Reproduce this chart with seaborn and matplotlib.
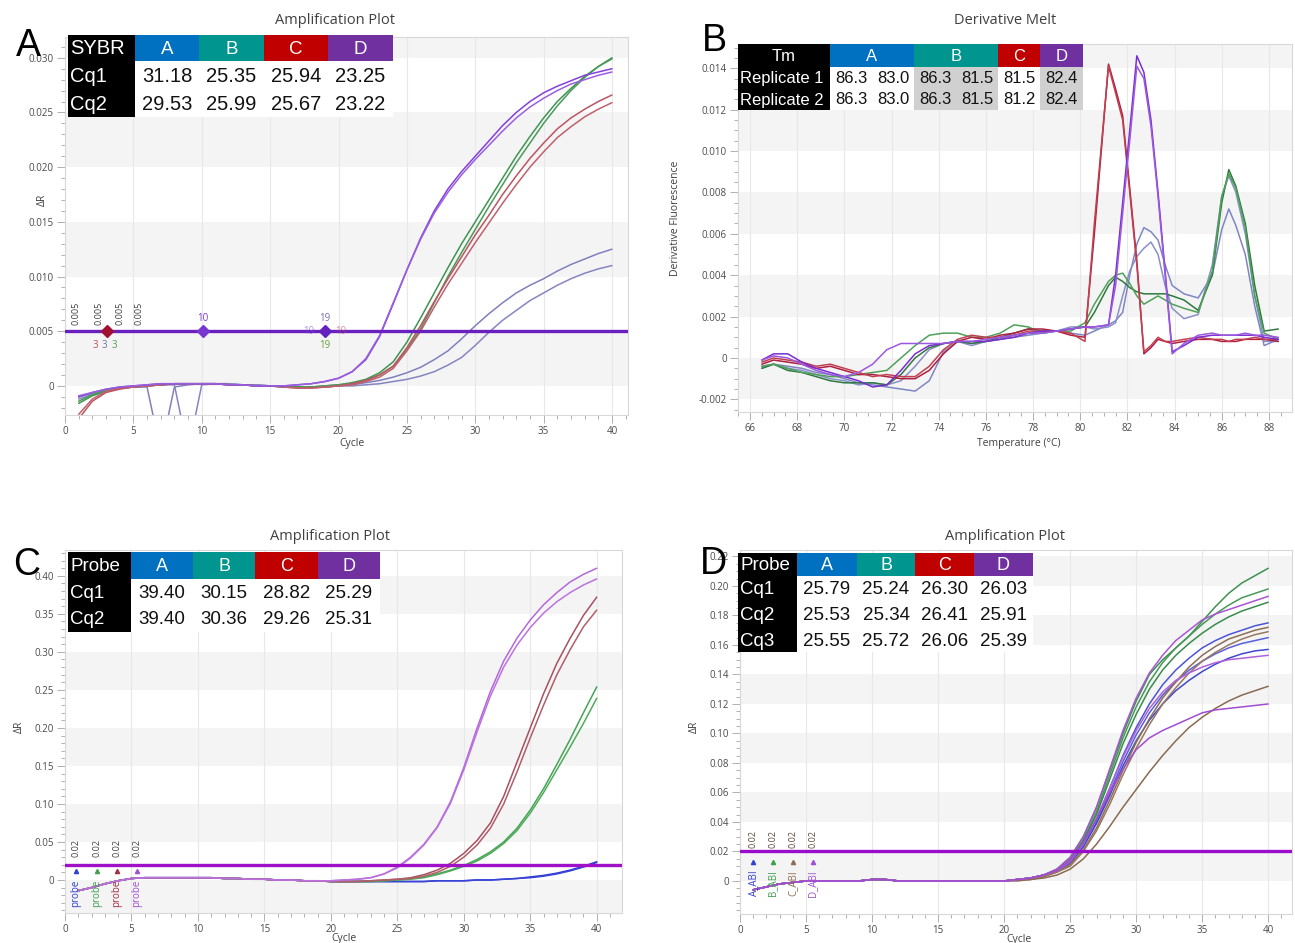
import numpy as np
import pandas as pd
import matplotlib
matplotlib.use("Agg")
import matplotlib.pyplot as plt
import seaborn as sns
from matplotlib.patches import Rectangle
from matplotlib.ticker import MultipleLocator, FuncFormatter

W, H = 1295, 943

# ---------------- data ----------------
cycles = list(range(1, 41))

# Panel A: SYBR amplification (dR per cycle)
sybr_A1 = [-0.0010, -0.0007, -0.0004, -0.0002, -0.0001, -0.0001, -0.0060, -0.0001, 0.0001, 0.0002, 0.0002, 0.0002, 0.0001, 0.0001, 0.0000, 0.0000, -0.0001, -0.0001, -0.0001,
           0.0000, 0.0001, 0.0003, 0.0005, 0.0008, 0.0012, 0.0017, 0.0024, 0.0032, 0.0043, 0.0055, 0.0066, 0.0076, 0.0085, 0.0092, 0.0098, 0.0105, 0.0111, 0.0116, 0.0121, 0.0125]
sybr_A2 = [-0.0012, -0.0008, -0.0004, -0.0002, -0.0001, 0.0000, 0.0001, 0.0001, -0.0060, 0.0001, 0.0002, 0.0002, 0.0001, 0.0001, 0.0000, 0.0000, -0.0001, -0.0001, -0.0001,
           0.0000, 0.0000, 0.0001, 0.0002, 0.0004, 0.0006, 0.0009, 0.0013, 0.0019, 0.0026, 0.0037, 0.0049, 0.0060, 0.0069, 0.0078, 0.0085, 0.0092, 0.0098, 0.0103, 0.0107, 0.0110]
sybr_B1 = [-0.0016, -0.0009, -0.0005, -0.0002, -0.0001, 0.0000, 0.0001, 0.0002, 0.0002, 0.0002, 0.0002, 0.0001, 0.0001, 0.0000, 0.0000, -0.0001, -0.0001, -0.0001, 0.0000,
           0.0001, 0.0003, 0.0006, 0.0012, 0.0022, 0.0040, 0.0062, 0.0085, 0.0108, 0.0130, 0.0150, 0.0170, 0.0190, 0.0210, 0.0228, 0.0245, 0.0260, 0.0272, 0.0283, 0.0292, 0.0300]
sybr_B2 = [-0.0014, -0.0008, -0.0004, -0.0002, -0.0001, 0.0000, 0.0001, 0.0002, 0.0002, 0.0002, 0.0002, 0.0001, 0.0001, 0.0000, 0.0000, -0.0001, -0.0001, -0.0001, 0.0000,
           0.0001, 0.0002, 0.0005, 0.0010, 0.0018, 0.0033, 0.0052, 0.0076, 0.0100, 0.0122, 0.0143, 0.0164, 0.0184, 0.0204, 0.0222, 0.0240, 0.0256, 0.0270, 0.0282, 0.0292, 0.0299]
sybr_C1 = [-0.0030, -0.0014, -0.0006, -0.0003, -0.0001, 0.0000, 0.0001, 0.0002, 0.0002, 0.0002, 0.0002, 0.0001, 0.0001, 0.0000, 0.0000, -0.0001, -0.0002, -0.0002, -0.0001,
           0.0000, 0.0002, 0.0005, 0.0010, 0.0018, 0.0035, 0.0055, 0.0077, 0.0098, 0.0118, 0.0138, 0.0156, 0.0175, 0.0192, 0.0208, 0.0222, 0.0235, 0.0245, 0.0253, 0.0260, 0.0266]
sybr_C2 = [-0.0026, -0.0012, -0.0005, -0.0002, -0.0001, 0.0000, 0.0001, 0.0002, 0.0002, 0.0002, 0.0002, 0.0001, 0.0001, 0.0000, 0.0000, -0.0001, -0.0002, -0.0002, -0.0001,
           0.0000, 0.0001, 0.0004, 0.0008, 0.0016, 0.0032, 0.0050, 0.0072, 0.0093, 0.0112, 0.0131, 0.0149, 0.0167, 0.0184, 0.0200, 0.0214, 0.0227, 0.0237, 0.0246, 0.0253, 0.0259]
sybr_D1 = [-0.0010, -0.0006, -0.0003, -0.0001, 0.0000, 0.0001, 0.0002, 0.0002, 0.0002, 0.0002, 0.0002, 0.0001, 0.0001, 0.0000, 0.0000, 0.0000, 0.0001, 0.0002, 0.0004,
           0.0007, 0.0013, 0.0024, 0.0045, 0.0075, 0.0106, 0.0135, 0.0160, 0.0180, 0.0196, 0.0210, 0.0224, 0.0238, 0.0250, 0.0260, 0.0268, 0.0274, 0.0279, 0.0284, 0.0287, 0.0290]
sybr_D2 = [-0.0009, -0.0006, -0.0003, -0.0001, 0.0000, 0.0001, 0.0002, 0.0002, 0.0002, 0.0002, 0.0002, 0.0001, 0.0001, 0.0000, 0.0000, 0.0000, 0.0001, 0.0002, 0.0004,
           0.0007, 0.0013, 0.0025, 0.0046, 0.0076, 0.0106, 0.0134, 0.0158, 0.0177, 0.0193, 0.0207, 0.0220, 0.0233, 0.0245, 0.0255, 0.0263, 0.0270, 0.0276, 0.0280, 0.0284, 0.0287]

# Panel B: derivative melt curves
melt_temp = [66.5, 67.0, 67.6, 68.2, 68.8, 69.4, 70.0, 70.6, 71.2, 71.8, 72.4, 73.0, 73.6, 74.2, 74.8,
             75.4, 76.0, 76.6, 77.2, 77.8, 78.4, 79.0, 79.6, 80.2, 80.6, 81.2, 81.5, 81.8, 82.1, 82.4,
             82.7, 83.0, 83.3, 83.6, 83.9, 84.4, 85.0, 85.6, 86.0, 86.3, 86.6, 87.0, 87.4, 87.8, 88.4]
melt_A1 = [-0.0004, -0.0003, -0.0004, -0.0005, -0.0007, -0.0008, -0.0010, -0.0012, -0.0013, -0.0014, -0.0015, -0.0016, -0.0011, 0.0003, 0.0008,
           0.0007, 0.0008, 0.0009, 0.0010, 0.0011, 0.0012, 0.0013, 0.0012, 0.0011, 0.0013, 0.0016, 0.0018, 0.0022, 0.0040, 0.0055,
           0.0063, 0.0061, 0.0057, 0.0045, 0.0035, 0.0031, 0.0029, 0.0040, 0.0062, 0.0072, 0.0064, 0.0050, 0.0025, 0.0006, 0.0009]
melt_A2 = [-0.0005, -0.0003, -0.0005, -0.0006, -0.0008, -0.0010, -0.0011, -0.0013, -0.0012, -0.0013, -0.0011, -0.0004, 0.0004, 0.0007, 0.0008,
           0.0006, 0.0008, 0.0009, 0.0011, 0.0012, 0.0013, 0.0013, 0.0015, 0.0015, 0.0014, 0.0015, 0.0017, 0.0030, 0.0042, 0.0049,
           0.0053, 0.0056, 0.0050, 0.0035, 0.0024, 0.0019, 0.0021, 0.0045, 0.0078, 0.0088, 0.0080, 0.0060, 0.0030, 0.0008, 0.0008]
melt_B1 = [-0.0005, -0.0003, -0.0006, -0.0007, -0.0009, -0.0011, -0.0012, -0.0012, -0.0012, -0.0013, -0.0008, 0.0000, 0.0005, 0.0007, 0.0008,
           0.0007, 0.0008, 0.0010, 0.0012, 0.0014, 0.0013, 0.0013, 0.0014, 0.0015, 0.0022, 0.0035, 0.0039, 0.0037, 0.0034, 0.0032,
           0.0031, 0.0031, 0.0031, 0.0031, 0.0030, 0.0028, 0.0023, 0.0040, 0.0075, 0.0091, 0.0083, 0.0065, 0.0035, 0.0013, 0.0014]
melt_B2 = [-0.0004, -0.0003, -0.0005, -0.0007, -0.0008, -0.0009, -0.0009, -0.0008, -0.0007, -0.0006, 0.0000, 0.0006, 0.0011, 0.0012, 0.0012,
           0.0010, 0.0010, 0.0012, 0.0016, 0.0015, 0.0012, 0.0013, 0.0013, 0.0017, 0.0026, 0.0037, 0.0040, 0.0041, 0.0036, 0.0030,
           0.0026, 0.0028, 0.0030, 0.0028, 0.0026, 0.0024, 0.0022, 0.0042, 0.0078, 0.0089, 0.0082, 0.0063, 0.0030, 0.0012, 0.0009]
melt_C1 = [-0.0003, -0.0001, -0.0002, -0.0003, -0.0005, -0.0004, -0.0006, -0.0008, -0.0008, -0.0009, -0.0010, -0.0010, -0.0006, 0.0002, 0.0008,
           0.0010, 0.0009, 0.0011, 0.0012, 0.0014, 0.0014, 0.0013, 0.0011, 0.0010, 0.0060, 0.0142, 0.0130, 0.0117, 0.0082, 0.0047,
           0.0002, 0.0005, 0.0009, 0.0008, 0.0007, 0.0008, 0.0009, 0.0009, 0.0008, 0.0008, 0.0008, 0.0009, 0.0009, 0.0009, 0.0008]
melt_C2 = [-0.0002, 0.0000, -0.0001, -0.0002, -0.0004, -0.0003, -0.0005, -0.0007, -0.0009, -0.0008, -0.0009, -0.0009, -0.0004, 0.0004, 0.0009,
           0.0011, 0.0010, 0.0010, 0.0011, 0.0013, 0.0013, 0.0013, 0.0012, 0.0008, 0.0065, 0.0141, 0.0128, 0.0115, 0.0080, 0.0045,
           0.0003, 0.0006, 0.0010, 0.0008, 0.0008, 0.0009, 0.0010, 0.0009, 0.0009, 0.0008, 0.0009, 0.0009, 0.0010, 0.0009, 0.0009]
melt_D1 = [-0.0001, 0.0002, 0.0002, -0.0002, -0.0005, -0.0007, -0.0009, -0.0011, -0.0014, -0.0013, -0.0006, 0.0002, 0.0006, 0.0007, 0.0008,
           0.0008, 0.0008, 0.0009, 0.0010, 0.0012, 0.0013, 0.0013, 0.0014, 0.0015, 0.0015, 0.0016, 0.0040, 0.0075, 0.0110, 0.0146,
           0.0138, 0.0115, 0.0080, 0.0042, 0.0003, 0.0006, 0.0010, 0.0011, 0.0011, 0.0011, 0.0011, 0.0011, 0.0011, 0.0010, 0.0009]
melt_D2 = [-0.0001, 0.0001, 0.0000, -0.0003, -0.0006, -0.0008, -0.0009, -0.0007, -0.0003, 0.0004, 0.0007, 0.0007, 0.0007, 0.0007, 0.0008,
           0.0008, 0.0009, 0.0010, 0.0011, 0.0012, 0.0012, 0.0013, 0.0014, 0.0015, 0.0015, 0.0016, 0.0035, 0.0070, 0.0105, 0.0141,
           0.0135, 0.0112, 0.0078, 0.0040, 0.0002, 0.0007, 0.0011, 0.0012, 0.0011, 0.0011, 0.0011, 0.0012, 0.0011, 0.0011, 0.0010]

# Panel C: probe amplification, cycles 1-19 then 20-40
probe_base = [-0.014, -0.010, -0.005, -0.001, 0.002, 0.003, 0.003, 0.003, 0.003, 0.003, 0.003, 0.002, 0.002, 0.001, 0.001, 0.000, 0.000, -0.001, -0.001]
probe_A1 = [-0.002, -0.002, -0.002, -0.002, -0.002, -0.002, -0.002, -0.002, -0.001, -0.001, -0.001, 0.000, 0.000, 0.001, 0.002, 0.004, 0.006, 0.009, 0.013, 0.018, 0.024]
probe_A2 = [-0.002, -0.002, -0.002, -0.002, -0.002, -0.002, -0.002, -0.002, -0.001, -0.001, -0.001, 0.000, 0.000, 0.001, 0.002, 0.003, 0.005, 0.008, 0.012, 0.017, 0.023]
probe_B1 = [-0.002, -0.002, -0.002, -0.002, -0.001, 0.000, 0.002, 0.004, 0.008, 0.013, 0.019, 0.027, 0.037, 0.050, 0.068, 0.092, 0.120, 0.152, 0.185, 0.220, 0.254]
probe_B2 = [-0.002, -0.002, -0.002, -0.002, -0.001, 0.000, 0.001, 0.003, 0.007, 0.012, 0.018, 0.025, 0.035, 0.048, 0.065, 0.088, 0.115, 0.145, 0.175, 0.206, 0.239]
probe_C1 = [-0.002, -0.002, -0.002, -0.001, 0.000, 0.001, 0.003, 0.007, 0.013, 0.022, 0.035, 0.052, 0.075, 0.110, 0.155, 0.200, 0.245, 0.285, 0.318, 0.348, 0.372]
probe_C2 = [-0.002, -0.002, -0.002, -0.001, 0.000, 0.001, 0.002, 0.005, 0.010, 0.018, 0.030, 0.046, 0.068, 0.100, 0.142, 0.187, 0.230, 0.270, 0.303, 0.333, 0.355]
probe_D1 = [-0.001, 0.000, 0.001, 0.003, 0.008, 0.017, 0.030, 0.047, 0.070, 0.103, 0.148, 0.200, 0.248, 0.288, 0.318, 0.342, 0.362, 0.378, 0.392, 0.402, 0.410]
probe_D2 = [-0.001, 0.000, 0.001, 0.003, 0.008, 0.016, 0.029, 0.046, 0.069, 0.101, 0.145, 0.195, 0.242, 0.280, 0.309, 0.332, 0.351, 0.366, 0.378, 0.388, 0.396]

# Panel D: ABI probe amplification, cycles 1-19 then 20-40
abi_base = [-0.006, -0.004, -0.002, -0.001, 0.000, 0.000, 0.000, 0.000, 0.000, 0.001, 0.001, 0.000, 0.000, 0.000, 0.000, 0.000, 0.000, 0.000, 0.000]
abi_A1 = [0.000, 0.001, 0.002, 0.004, 0.007, 0.013, 0.025, 0.042, 0.063, 0.085, 0.104, 0.120, 0.133, 0.143, 0.151, 0.158, 0.163, 0.167, 0.170, 0.173, 0.175]
abi_A2 = [0.000, 0.001, 0.002, 0.004, 0.007, 0.013, 0.024, 0.040, 0.060, 0.081, 0.099, 0.114, 0.126, 0.135, 0.143, 0.149, 0.154, 0.158, 0.161, 0.163, 0.165]
abi_A3 = [0.000, 0.001, 0.002, 0.004, 0.007, 0.012, 0.023, 0.039, 0.058, 0.078, 0.095, 0.109, 0.120, 0.129, 0.136, 0.142, 0.147, 0.151, 0.154, 0.156, 0.157]
abi_B1 = [0.000, 0.001, 0.002, 0.004, 0.008, 0.016, 0.030, 0.050, 0.075, 0.100, 0.122, 0.140, 0.150, 0.158, 0.166, 0.176, 0.186, 0.195, 0.202, 0.207, 0.212]
abi_B2 = [0.000, 0.001, 0.002, 0.004, 0.008, 0.015, 0.028, 0.047, 0.072, 0.097, 0.118, 0.135, 0.148, 0.158, 0.166, 0.174, 0.181, 0.187, 0.192, 0.195, 0.198]
abi_B3 = [0.000, 0.001, 0.002, 0.004, 0.007, 0.014, 0.027, 0.045, 0.069, 0.093, 0.113, 0.130, 0.143, 0.153, 0.161, 0.168, 0.174, 0.179, 0.183, 0.186, 0.189]
abi_C1 = [0.000, 0.001, 0.001, 0.003, 0.006, 0.011, 0.021, 0.036, 0.055, 0.075, 0.094, 0.110, 0.124, 0.135, 0.145, 0.153, 0.159, 0.164, 0.167, 0.170, 0.172]
abi_C2 = [0.000, 0.001, 0.001, 0.003, 0.006, 0.010, 0.020, 0.034, 0.052, 0.072, 0.090, 0.106, 0.120, 0.131, 0.141, 0.149, 0.155, 0.160, 0.164, 0.167, 0.169]
abi_C3 = [0.000, 0.000, 0.001, 0.002, 0.004, 0.008, 0.015, 0.025, 0.037, 0.050, 0.062, 0.074, 0.085, 0.095, 0.104, 0.111, 0.117, 0.122, 0.126, 0.129, 0.132]
abi_D1 = [0.000, 0.001, 0.002, 0.004, 0.008, 0.016, 0.030, 0.050, 0.076, 0.102, 0.124, 0.141, 0.153, 0.163, 0.170, 0.177, 0.181, 0.184, 0.187, 0.190, 0.193]
abi_D2 = [0.000, 0.001, 0.002, 0.004, 0.007, 0.013, 0.025, 0.042, 0.063, 0.084, 0.102, 0.117, 0.128, 0.136, 0.141, 0.145, 0.148, 0.150, 0.151, 0.152, 0.153]
abi_D3 = [0.000, 0.001, 0.002, 0.004, 0.007, 0.014, 0.026, 0.042, 0.060, 0.076, 0.089, 0.097, 0.102, 0.106, 0.110, 0.114, 0.116, 0.117, 0.118, 0.119, 0.120]

# table contents
samples = ['A', 'B', 'C', 'D']
sybr_cq = {'Cq1': ['31.18', '25.35', '25.94', '23.25'], 'Cq2': ['29.53', '25.99', '25.67', '23.22']}
melt_tm = {'Replicate 1': [['86.3', '83.0'], ['86.3', '81.5'], ['81.5'], ['82.4']],
           'Replicate 2': [['86.3', '83.0'], ['86.3', '81.5'], ['81.2'], ['82.4']]}
probe_cq = {'Cq1': ['39.40', '30.15', '28.82', '25.29'], 'Cq2': ['39.40', '30.36', '29.26', '25.31']}
abi_cq = {'Cq1': ['25.79', '25.24', '26.30', '26.03'], 'Cq2': ['25.53', '25.34', '26.41', '25.91'],
          'Cq3': ['25.55', '25.72', '26.06', '25.39']}
head_colors = ['#0070C0', '#00958E', '#C00000', '#7030A0']

# ---------------- helpers ----------------
sns.set_theme(style="white")
plt.rcParams['font.family'] = ['Open Sans', 'DejaVu Sans']

fig = plt.figure(figsize=(W / 100, H / 100), dpi=100)


def px_axes(l, t, r, b):
    return fig.add_axes([l / W, 1 - b / H, (r - l) / W, (b - t) / H])


def long_df(x, curves):
    rows = []
    for name, ys in curves.items():
        rows.append(pd.DataFrame({'x': x, 'y': ys, 'curve': name}))
    return pd.concat(rows, ignore_index=True)


def style_axes(ax, xlim, ylim, xmaj, xmin, ymaj, ymin, yticks, yfmt, bands):
    ax.set_xlim(*xlim)
    ax.set_ylim(*ylim)
    for lo in bands:
        ax.axhspan(lo, lo + ymaj, color='#F4F4F4', lw=0, zorder=0)
    ax.xaxis.set_major_locator(MultipleLocator(xmaj))
    ax.xaxis.set_minor_locator(MultipleLocator(xmin))
    ax.set_yticks(yticks)
    ax.yaxis.set_minor_locator(MultipleLocator(ymin))
    ax.yaxis.set_major_formatter(FuncFormatter(lambda v, _: '0' if abs(v) < 1e-9 else yfmt.format(v)))
    ax.grid(axis='x', which='major', color='#E8E8E8', lw=0.8, zorder=0)
    ax.set_axisbelow(True)
    ax.tick_params(which='both', direction='out', color='#B0B0B0', labelcolor='#4A4A4A',
                   labelsize=7, left=True, bottom=True, width=0.7)
    ax.tick_params(which='major', length=6, pad=2)
    ax.tick_params(which='minor', length=3)
    for s in ax.spines.values():
        s.set_color('#D8D8D8')
        s.set_linewidth(0.8)


def px_rect(x0, y0, x1, y1, color):
    fig.add_artist(Rectangle((x0 / W, 1 - y1 / H), (x1 - x0) / W, (y1 - y0) / H,
                             transform=fig.transFigure, facecolor=color, edgecolor='none', zorder=20))


def px_text(x, y, s, **kw):
    fig.text(x / W, 1 - y / H, s, zorder=21, **kw)


def draw_table(cols, rows_y, corner, data, size, head_size, value_bg=None):
    # cols: [left of black col, right of black col, group edges...]; rows_y: [top, header bottom, row bottoms...]
    px_rect(cols[0], rows_y[0], cols[1], rows_y[-1], 'black')
    for i, c in enumerate(head_colors):
        px_rect(cols[i + 1], rows_y[0], cols[i + 2], rows_y[1], c)
        px_text((cols[i + 1] + cols[i + 2]) / 2, (rows_y[0] + rows_y[1]) / 2 + 1, samples[i], color='white',
                fontsize=head_size, ha='center', va='center', family='Liberation Sans')
        bg = value_bg[i] if value_bg else 'white'
        px_rect(cols[i + 1], rows_y[1], cols[i + 2], rows_y[-1], bg)
    if corner == 'Tm':
        px_text((cols[0] + cols[1]) / 2, (rows_y[0] + rows_y[1]) / 2 + 1, corner, color='white',
                fontsize=head_size, ha='center', va='center', family='Liberation Sans')
    else:
        px_text(cols[0] + 2, (rows_y[0] + rows_y[1]) / 2 + 1, corner, color='white',
                fontsize=size, ha='left', va='center', family='Liberation Sans')
    for r, (label, vals) in enumerate(data.items()):
        yc = (rows_y[r + 1] + rows_y[r + 2]) / 2 + 1
        px_text(cols[0] + 2, yc, label, color='white', fontsize=size, ha='left', va='center',
                family='Liberation Sans')
        for i, v in enumerate(vals):
            parts = v if isinstance(v, list) else [v]
            span = (cols[i + 2] - cols[i + 1]) / len(parts)
            for k, p in enumerate(parts):
                px_text(cols[i + 1] + (k + 0.5) * span, yc, p, color='#111111', fontsize=size,
                        ha='center', va='center', family='Liberation Sans')


title_kw = dict(fontsize=10.5, color='#404040', ha='center', va='center')
label_kw = dict(fontsize=7.5, color='#404040')

# ---------------- Panel A ----------------
axA = px_axes(65, 37, 628, 415)
style_axes(axA, (0, 41.17), (-0.00266, 0.0319), 5, 1, 0.005, 0.001,
           [0, 0.005, 0.010, 0.015, 0.020, 0.025, 0.030], '{:.3f}', [0, 0.010, 0.020, 0.030])
dfA = long_df(cycles, {'A1': sybr_A1, 'A2': sybr_A2, 'B1': sybr_B1, 'B2': sybr_B2,
                       'C1': sybr_C1, 'C2': sybr_C2, 'D1': sybr_D1, 'D2': sybr_D2})
palA = {'A1': '#8080BE', 'A2': '#8585C2', 'B1': '#3E9550', 'B2': '#4A9A58',
        'C1': '#BA5562', 'C2': '#C0606C', 'D1': '#8440DA', 'D2': '#9A5EE0'}
sns.lineplot(data=dfA, x='x', y='y', hue='curve', units='curve', estimator=None, palette=palA,
             legend=False, lw=1.1, ax=axA)
axA.axhline(0.005, color='#6A1FBF', lw=2.4, zorder=3)
for xv in [0.8, 2.5, 4.0, 5.4]:
    axA.text(xv, 0.0056, '0.005', rotation=90, ha='center', va='bottom', fontsize=6.5, color='#404040')
for xv, c in zip([2.2, 2.9, 3.6], ['#C05060', '#7070B0', '#50A050']):
    axA.text(xv, 0.0037, '3', ha='center', va='center', fontsize=7, color=c)
axA.plot([3.05], [0.005], marker='D', ms=6, color='#A01030', zorder=4)
axA.plot([10.1], [0.005], marker='D', ms=6, color='#7A35D0', zorder=4)
axA.plot([19.0], [0.005], marker='D', ms=6, color='#6520C0', zorder=4)
axA.text(10.1, 0.0062, '10', ha='center', va='center', fontsize=7, color='#7A35D0')
axA.text(19.0, 0.0062, '19', ha='center', va='center', fontsize=7, color='#7070B0')
axA.text(19.0, 0.0037, '19', ha='center', va='center', fontsize=7, color='#6AA040')
axA.text(17.8, 0.005, '19', ha='center', va='center', fontsize=7, color='#8050D0', alpha=0.6)
axA.text(20.2, 0.005, '19', ha='center', va='center', fontsize=7, color='#C05060', alpha=0.6)
axA.set_xlabel('Cycle', **label_kw)
axA.set_ylabel('ΔR', **label_kw)
axA.xaxis.set_label_coords(0.51, -0.062)
axA.yaxis.set_label_coords(-0.03, 0.57)

# ---------------- Panel B ----------------
axB = px_axes(738, 44, 1292, 412)
style_axes(axB, (65.49, 88.98), (-0.00261, 0.01517), 2, 0.5, 0.002, 0.0005,
           [-0.002, 0, 0.002, 0.004, 0.006, 0.008, 0.010, 0.012, 0.014], '{:.3f}',
           [-0.002, 0.002, 0.006, 0.010, 0.014])
dfB = long_df(melt_temp, {'A1': melt_A1, 'A2': melt_A2, 'B1': melt_B1, 'B2': melt_B2,
                          'C1': melt_C1, 'C2': melt_C2, 'D1': melt_D1, 'D2': melt_D2})
palB = {'A1': '#7E86C4', 'A2': '#8A90C8', 'B1': '#2E7A3E', 'B2': '#4FA05A',
        'C1': '#B01E40', 'C2': '#C04050', 'D1': '#7A2ED0', 'D2': '#9C58E0'}
sns.lineplot(data=dfB, x='x', y='y', hue='curve', units='curve', estimator=None, palette=palB,
             legend=False, lw=1.1, sort=False, ax=axB)
axB.set_xlabel('Temperature (°C)', **label_kw)
axB.set_ylabel('Derivative Fluorescence', **label_kw)
axB.xaxis.set_label_coords(0.507, -0.072)
axB.yaxis.set_label_coords(-0.103, 0.527)

# ---------------- Panel C ----------------
axC = px_axes(65, 550, 622, 913)
style_axes(axC, (0, 41.9), (-0.0434, 0.434), 5, 1, 0.05, 0.01,
           [0, 0.05, 0.10, 0.15, 0.20, 0.25, 0.30, 0.35, 0.40], '{:.2f}',
           [-0.05, 0.05, 0.15, 0.25, 0.35])
dfC = long_df(cycles, {'A1': probe_base + probe_A1, 'A2': probe_base + probe_A2,
                       'B1': probe_base + probe_B1, 'B2': probe_base + probe_B2,
                       'C1': probe_base + probe_C1, 'C2': probe_base + probe_C2,
                       'D1': probe_base + probe_D1, 'D2': probe_base + probe_D2})
palC = {'A1': '#2633D6', 'A2': '#3A45D8', 'B1': '#44A553', 'B2': '#50AA5C',
        'C1': '#A8505E', 'C2': '#B05E6A', 'D1': '#B468DA', 'D2': '#BC72DE'}
sns.lineplot(data=dfC, x='x', y='y', hue='curve', units='curve', estimator=None, palette=palC,
             legend=False, lw=1.1, ax=axC)
axC.axhline(0.02, color='#A010C8', lw=2.4, zorder=3)
probe_marks = ['#3040D0', '#40A050', '#A03040', '#A050D0']
for xv, c in zip([0.83, 2.4, 3.9, 5.4], probe_marks):
    axC.text(xv, 0.030, '0.02', rotation=90, ha='center', va='bottom', fontsize=6.5, color='#404040')
    axC.plot([xv], [0.012], marker='^', ms=3, color=c, zorder=4)
    axC.text(xv, 0.0, 'probe', rotation=90, ha='center', va='top', fontsize=7, color=c)
axC.set_xlabel('Cycle', **label_kw)
axC.set_ylabel('ΔR', **label_kw)
axC.xaxis.set_label_coords(0.5, -0.056)
axC.yaxis.set_label_coords(-0.072, 0.512)

# ---------------- Panel D ----------------
axD = px_axes(740, 550, 1292, 914)
style_axes(axD, (0, 41.8), (-0.0224, 0.2244), 5, 1, 0.02, 0.005,
           [0, 0.02, 0.04, 0.06, 0.08, 0.10, 0.12, 0.14, 0.16, 0.18, 0.20, 0.22], '{:.2f}',
           [0, 0.04, 0.08, 0.12, 0.16, 0.20])
dfD = long_df(cycles, {'A1': abi_base + abi_A1, 'A2': abi_base + abi_A2, 'A3': abi_base + abi_A3,
                       'B1': abi_base + abi_B1, 'B2': abi_base + abi_B2, 'B3': abi_base + abi_B3,
                       'C1': abi_base + abi_C1, 'C2': abi_base + abi_C2, 'C3': abi_base + abi_C3,
                       'D1': abi_base + abi_D1, 'D2': abi_base + abi_D2, 'D3': abi_base + abi_D3})
palD = {'A1': '#4A55D8', 'A2': '#5560DA', 'A3': '#4048D0', 'B1': '#3E9050', 'B2': '#489858', 'B3': '#3A8A4C',
        'C1': '#8D6E55', 'C2': '#98785E', 'C3': '#8A6A50', 'D1': '#A855D5', 'D2': '#B060DA', 'D3': '#A24CD0'}
sns.lineplot(data=dfD, x='x', y='y', hue='curve', units='curve', estimator=None, palette=palD,
             legend=False, lw=1.1, ax=axD)
axD.axhline(0.02, color='#9A0CCC', lw=2.4, zorder=3)
abi_marks = ['#3040D0', '#40A050', '#8D6E55', '#A050D0']
for xv, c, s in zip([1.0, 2.5, 4.0, 5.5], abi_marks, samples):
    axD.text(xv, 0.0225, '0.02', rotation=90, ha='center', va='bottom', fontsize=6.5, color='#5A4A3A')
    axD.plot([xv], [0.0129], marker='^', ms=3, color=c, zorder=4)
    axD.text(xv, 0.0075, s + '_ABI', rotation=90, ha='center', va='top', fontsize=7, color=c)
axD.set_xlabel('Cycle', **label_kw)
axD.set_ylabel('ΔR', **label_kw)
axD.xaxis.set_label_coords(0.505, -0.054)
axD.yaxis.set_label_coords(-0.072, 0.514)

# ---------------- titles, tables, panel letters ----------------
px_text(335, 21, 'Amplification Plot', **title_kw)
px_text(1005, 21, 'Derivative Melt', **title_kw)
px_text(330, 537, 'Amplification Plot', **title_kw)
px_text(1005, 537, 'Amplification Plot', **title_kw)

draw_table([68, 135, 199, 264, 328, 393], [35, 61, 90, 117], 'SYBR', sybr_cq, 14.5, 13.5)
draw_table([738, 830, 914, 998, 1040, 1083], [44, 67, 88, 110], 'Tm', melt_tm, 12, 12,
           value_bg=['white', '#D0D0D0', 'white', '#D0D0D0'])
draw_table([68, 131, 193, 255, 318, 380], [552, 579, 606, 632], 'Probe', probe_cq, 13.5, 13)
draw_table([738, 797, 857, 915, 974, 1033], [553, 576, 602, 628, 652], 'Probe', abi_cq, 13.5, 13)

for x, y, s in [(28, 46, 'A'), (714, 41, 'B'), (27, 565, 'C'), (713, 564, 'D')]:
    px_text(x, y, s, fontsize=27, color='black', ha='center', va='center', family='Liberation Sans')

fig.savefig('out.png', dpi=100, facecolor='white')
